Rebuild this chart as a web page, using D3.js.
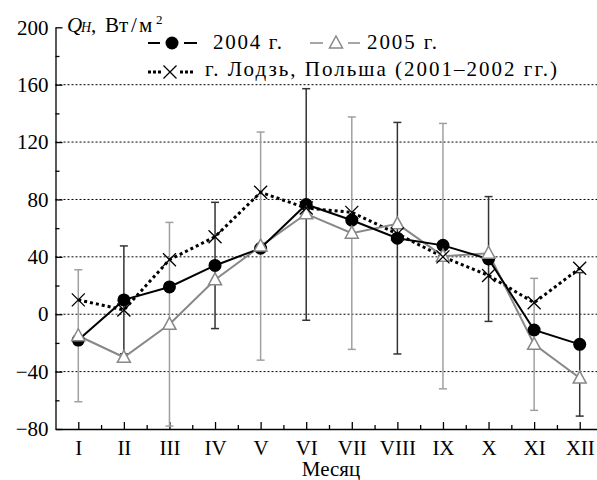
<!DOCTYPE html>
<meta charset="utf-8">
<style>
body { margin: 0; background: #fff; }
.axis path, .axis line { stroke: #000; stroke-width: 1.3; }
.grid line { stroke: #000; stroke-width: 1; stroke-dasharray: 2,2; }
</style>
<body>
<script src="https://cdn.jsdelivr.net/npm/d3@7"></script>
<script>
// monthly values, W/m^2
var months = ["I", "II", "III", "IV", "V", "VI", "VII", "VIII", "IX", "X", "XI", "XII"];
var q2004 = [-18, 10, 19, 34, 46, 76.5, 65.5, 53, 48, 38.5, -11, -21];
var q2005 = [-15, -30, -7, 24, 47.5, 70, 56.5, 63, 40.5, 42.5, -21, -44.5];
var lodz  = [10, 3, 38, 54, 85, 74, 71, 56, 40, 27, 8, 32];
// error bars (half-width), shown on alternate months
var err2004 = [null, 37.6, null, 44, null, 80.7, null, 80.7, null, 43.5, null, 50];
var err2005 = [46, null, 71, null, 79.5, null, 81, null, 92.5, null, 46, null];
var yTicks = [-80, -40, 0, 40, 80, 120, 160, 200];

var W = 597, H = 480;
var FONT = "Liberation Serif";
var svg = d3.select("body").append("svg").attr("width", W).attr("height", H)
  .attr("font-family", FONT);

var x = d3.scaleLinear().domain([0.5, 12.5]).range([55.5, 602.5]);
var y = d3.scaleLinear().domain([-80, 200]).range([429, 27.3]);

// grid
svg.append("g").attr("class", "grid")
  .selectAll("line").data(yTicks.filter(function(d) { return d > -80 && d < 200; }))
  .enter().append("line")
    .attr("x1", x(0.5)).attr("x2", W)
    .attr("y1", function(d) { return y(d); }).attr("y2", function(d) { return y(d); });

// minor ticks
var minorY = d3.range(-60, 200, 40);
svg.append("g").attr("class", "axis")
  .attr("transform", "translate(" + x(0.5) + ",0)")
  .call(d3.axisLeft(y).tickValues(minorY).tickSize(-4).tickFormat(""))
  .select(".domain").remove();
svg.append("g").attr("class", "axis")
  .attr("transform", "translate(0," + y(-80) + ")")
  .call(d3.axisBottom(x).tickValues(d3.range(1.5, 12.5, 1)).tickSize(-4).tickFormat(""))
  .select(".domain").remove();

// main axes
svg.append("g").attr("class", "axis")
  .attr("transform", "translate(" + x(0.5) + ",0)")
  .call(d3.axisLeft(y).tickValues(yTicks).tickSize(-7).tickSizeOuter(0).tickPadding(7))
  .attr("font-family", FONT).attr("font-size", 21);
svg.append("g").attr("class", "axis")
  .attr("transform", "translate(0," + y(-80) + ")")
  .call(d3.axisBottom(x).tickValues(d3.range(1, 13)).tickSize(-7).tickSizeOuter(0).tickPadding(11)
    .tickFormat(function(d) { return months[d - 1]; }))
  .attr("font-family", FONT).attr("font-size", 21);
svg.selectAll(".axis text").attr("fill", "#000");

svg.append("text")
  .attr("x", 331).attr("y", 476)
  .attr("text-anchor", "middle")
  .attr("font-size", 21)
  .text("Месяц");

// error bars
function errBars(vals, errs, color) {
  var data = vals.map(function(v, i) { return {m: i + 1, v: v, e: errs[i]}; })
    .filter(function(d) { return d.e != null; });
  var g = svg.append("g").attr("stroke", color).attr("stroke-width", 1.5);
  data.forEach(function(d) {
    g.append("line").attr("x1", x(d.m)).attr("x2", x(d.m))
      .attr("y1", y(d.v + d.e)).attr("y2", y(d.v - d.e));
    g.append("line").attr("x1", x(d.m) - 4).attr("x2", x(d.m) + 4)
      .attr("y1", y(d.v + d.e)).attr("y2", y(d.v + d.e));
    g.append("line").attr("x1", x(d.m) - 4).attr("x2", x(d.m) + 4)
      .attr("y1", y(d.v - d.e)).attr("y2", y(d.v - d.e));
  });
}
errBars(q2004, err2004, "#333");
errBars(q2005, err2005, "#a0a0a0");

var line = d3.line()
  .x(function(d, i) { return x(i + 1); })
  .y(function(d) { return y(d); });

svg.append("path").datum(lodz).attr("d", line)
  .attr("fill", "none").attr("stroke", "#000").attr("stroke-width", 3).attr("stroke-dasharray", "3,3");
svg.append("path").datum(q2005).attr("d", line)
  .attr("fill", "none").attr("stroke", "#888").attr("stroke-width", 2);
svg.append("path").datum(q2004).attr("d", line)
  .attr("fill", "none").attr("stroke", "#000").attr("stroke-width", 2);

// markers
function circle(g, cx, cy) {
  g.append("circle").attr("cx", cx).attr("cy", cy).attr("r", 6.5).attr("fill", "#000");
}
function tri(g, cx, cy) {
  g.append("path")
    .attr("d", "M" + cx + "," + (cy - 7) + "L" + (cx + 6.5) + "," + (cy + 5) + "L" + (cx - 6.5) + "," + (cy + 5) + "Z")
    .attr("fill", "#fff").attr("stroke", "#888").attr("stroke-width", 1.5);
}
function cross(g, cx, cy) {
  var s = 6.5;
  g.append("path")
    .attr("d", "M" + (cx - s) + "," + (cy - s) + "L" + (cx + s) + "," + (cy + s) +
               "M" + (cx - s) + "," + (cy + s) + "L" + (cx + s) + "," + (cy - s))
    .attr("stroke", "#000").attr("stroke-width", 1.3);
}
var mk = svg.append("g");
q2004.forEach(function(v, i) { circle(mk, x(i + 1), y(v)); });
q2005.forEach(function(v, i) { tri(mk, x(i + 1), y(v)); });
lodz.forEach(function(v, i) { cross(mk, x(i + 1), y(v)); });

// axis title  Q_H, Вт/м²
var t = svg.append("text").attr("y", 32).attr("font-size", 21);
t.append("tspan").attr("x", 67).attr("font-style", "italic").text("Q");
t.append("tspan").attr("x", 81).attr("y", 32).attr("font-style", "italic").attr("font-size", 14).text("H");
t.append("tspan").attr("x", 91).attr("y", 32).text(",");
t.append("tspan").attr("x", 105).attr("y", 32).text("Вт");
t.append("tspan").attr("x", 131).attr("y", 32).text("/");
t.append("tspan").attr("x", 139).attr("y", 32).text("м");
t.append("tspan").attr("x", 156).attr("y", 24).attr("font-size", 13).text("2");

// legend
var lg = svg.append("g");
lg.append("line").attr("x1", 148).attr("x2", 160).attr("y1", 43).attr("y2", 43).attr("stroke", "#000").attr("stroke-width", 2);
lg.append("line").attr("x1", 184).attr("x2", 197).attr("y1", 43).attr("y2", 43).attr("stroke", "#000").attr("stroke-width", 2);
circle(lg, 172, 43);
lg.append("text").attr("x", 213).attr("y", 49).attr("font-size", 21)
  .attr("textLength", 69).attr("lengthAdjust", "spacing").text("2004 г.");

lg.append("line").attr("x1", 310).attr("x2", 323).attr("y1", 43).attr("y2", 43).attr("stroke", "#888").attr("stroke-width", 1.5);
lg.append("line").attr("x1", 348).attr("x2", 360).attr("y1", 43).attr("y2", 43).attr("stroke", "#888").attr("stroke-width", 1.5);
tri(lg, 336, 43);
lg.append("text").attr("x", 367).attr("y", 49).attr("font-size", 21)
  .attr("textLength", 70).attr("lengthAdjust", "spacing").text("2005 г.");

lg.append("line").attr("x1", 148).attr("x2", 161).attr("y1", 72).attr("y2", 72).attr("stroke", "#000").attr("stroke-width", 3).attr("stroke-dasharray", "3,2");
lg.append("line").attr("x1", 180).attr("x2", 193).attr("y1", 72).attr("y2", 72).attr("stroke", "#000").attr("stroke-width", 3).attr("stroke-dasharray", "3,2");
cross(lg, 170, 72);
lg.append("text").attr("x", 205).attr("y", 76).attr("font-size", 21)
  .attr("textLength", 352).attr("lengthAdjust", "spacing")
  .text("г. Лодзь, Польша (2001–2002 гг.)");
</script>
</body>
